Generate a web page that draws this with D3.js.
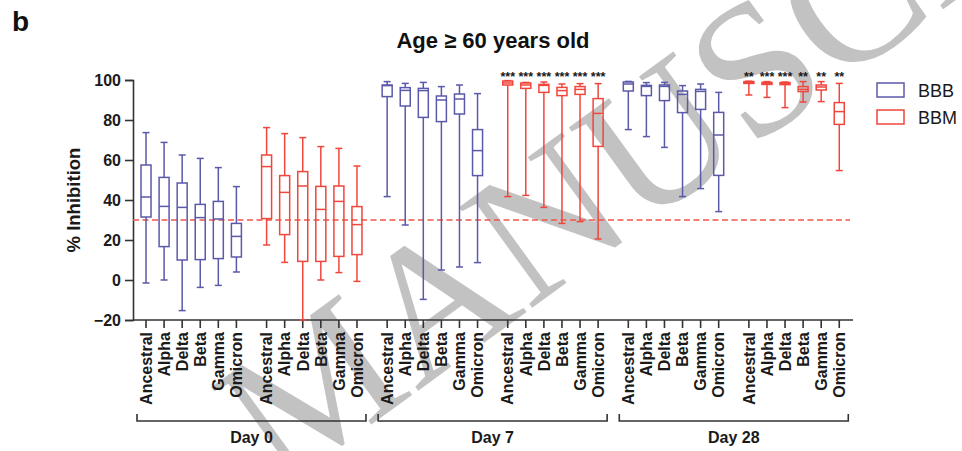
<!DOCTYPE html>
<html>
<head>
<meta charset="utf-8">
<script src="https://cdn.jsdelivr.net/npm/d3@7"></script>
<style>
  html, body { margin: 0; padding: 0; background: #fff; }
  svg { display: block; }
  text { font-family: "Liberation Sans", Arial, Helvetica, sans-serif; }
</style>
</head>
<body>
<svg id="chart" width="962" height="451"></svg>
<script>
// ---- data -------------------------------------------------------------
const variants = ["Ancestral", "Alpha", "Delta", "Beta", "Gamma", "Omicron"];
const days = ["Day 0", "Day 7", "Day 28"];
const groups = ["BBB", "BBM"];
const yTicks = [-20, 0, 20, 40, 60, 80, 100];
const threshold = 30;

// each entry: [min, q1, median, q3, max] in % inhibition, one per variant
const bbbDay0 = [
  [-1.5, 31.5, 41.5, 57.5, 73.7],
  [0.0, 16.7, 36.8, 51.3, 68.8],
  [-15.3, 10.0, 36.3, 48.5, 62.5],
  [-3.7, 10.2, 31.2, 37.8, 60.8],
  [-2.7, 10.7, 30.5, 39.3, 56.2],
  [4.0, 11.5, 21.8, 28.3, 46.7]
];
const bbmDay0 = [
  [17.5, 30.7, 56.7, 62.5, 76.2],
  [8.8, 22.7, 43.8, 52.2, 73.2],
  [-20.0, 9.3, 47.0, 54.2, 71.2],
  [0.0, 9.3, 35.3, 46.8, 66.7],
  [3.7, 11.8, 39.3, 47.0, 65.8],
  [-0.7, 12.7, 27.7, 36.7, 57.0]
];
const bbbDay7 = [
  [41.7, 91.7, 97.2, 97.5, 99.2],
  [27.5, 87.0, 94.8, 96.2, 98.3],
  [-9.7, 81.3, 94.7, 95.8, 98.8],
  [5.0, 79.2, 90.0, 92.0, 96.7],
  [6.5, 83.0, 90.5, 93.0, 97.5],
  [8.7, 52.2, 64.7, 75.2, 93.2]
];
const bbmDay7 = [
  [41.7, 97.5, 98.5, 99.5, 99.7],
  [42.3, 95.8, 97.5, 98.5, 98.8],
  [36.3, 93.8, 97.3, 97.8, 99.0],
  [28.3, 92.2, 94.7, 96.3, 98.0],
  [29.2, 92.8, 95.3, 96.7, 98.2],
  [20.5, 66.8, 83.3, 90.7, 98.2]
];
const bbbDay28 = [
  [75.2, 94.5, 98.0, 99.0, 99.3],
  [71.7, 92.2, 96.8, 97.3, 98.7],
  [66.3, 89.7, 96.8, 97.5, 98.8],
  [41.7, 83.7, 92.8, 94.5, 97.2],
  [45.7, 85.3, 94.3, 95.3, 98.0],
  [34.2, 52.3, 72.5, 83.8, 93.8]
];
const bbmDay28 = [
  [92.5, 98.3, 98.8, 99.2, 99.4],
  [91.3, 97.8, 98.3, 98.8, 99.2],
  [86.2, 97.7, 98.2, 98.7, 99.0],
  [89.0, 94.2, 95.3, 96.7, 99.2],
  [89.2, 95.0, 96.5, 97.5, 99.2],
  [54.7, 77.8, 84.2, 88.7, 98.3]
];
// significance marks above the BBM boxes
const bbmStarsDay0 = ["", "", "", "", "", ""];
const bbmStarsDay7 = ["***", "***", "***", "***", "***", "***"];
const bbmStarsDay28 = ["**", "***", "***", "**", "**", "**"];

const seriesByDay = [
  { day: days[0], BBB: bbbDay0, BBM: bbmDay0, stars: bbmStarsDay0 },
  { day: days[1], BBB: bbbDay7, BBM: bbmDay7, stars: bbmStarsDay7 },
  { day: days[2], BBB: bbbDay28, BBM: bbmDay28, stars: bbmStarsDay28 }
];

const colors = { BBB: "#5b59a9", BBM: "#f0463c" };

// ---- flatten into box records ------------------------------------------
const blockGap = 0.67;   // extra spacing (in box slots) between blocks
const boxes = [];
seriesByDay.forEach((s, d) => {
  groups.forEach((g, gi) => {
    const block = d * 2 + gi;
    s[g].forEach((v, vi) => {
      boxes.push({
        day: s.day, group: g, variant: variants[vi],
        pos: block * 6 + vi + block * blockGap,
        min: v[0], q1: v[1], median: v[2], q3: v[3], max: v[4],
        stars: g === "BBM" ? s.stars[vi] : ""
      });
    });
  });
});
const lastPos = 5 * 6 + 5 + 5 * blockGap;

// ---- layout ------------------------------------------------------------
const svg = d3.select("#chart");
const x = d3.scaleLinear().domain([-0.72, lastPos + 0.76]).range([133, 853]);
const y = d3.scaleLinear().domain([-20, 100]).range([320, 80]);
const boxW = 10, capW = 7;

// faint background watermark lettering
svg.append("text")
  .attr("transform", "translate(280,491) rotate(-36)")
  .style("font-family", "'Liberation Serif', 'Times New Roman', serif")
  .attr("font-size", 190)
  .attr("fill", "#c2c2c2")
  .text("MANUSCRIPT");

// panel letter and title
svg.append("text").attr("x", 12).attr("y", 31)
  .attr("font-size", 28).attr("font-weight", "bold").attr("fill", "#111").text("b");
svg.append("text").attr("x", 493).attr("y", 48).attr("text-anchor", "middle")
  .attr("font-size", 22).attr("font-weight", "bold").attr("fill", "#111")
  .text("Age \u2265 60 years old");

// y axis
const yAxis = svg.append("g").attr("transform", `translate(${x.range()[0]},0)`)
  .call(d3.axisLeft(y).tickValues(yTicks).tickSize(8).tickPadding(4).tickFormat(d3.format("d")));
yAxis.select(".domain").attr("stroke", "#333").attr("stroke-width", 1.6);
yAxis.selectAll(".tick line").attr("stroke", "#333").attr("stroke-width", 1.6);
yAxis.selectAll(".tick text").attr("font-size", 16).attr("font-weight", "bold")
  .attr("fill", "#1a1a1a").style("font-family", "'Liberation Sans', Arial, sans-serif");

svg.append("text")
  .attr("transform", `translate(80,${y(40)}) rotate(-90)`)
  .attr("text-anchor", "middle")
  .attr("font-size", 18.5).attr("font-weight", "bold").attr("fill", "#1a1a1a")
  .text("% Inhibition");

// x axis with one tick per box
const xAxis = svg.append("g").attr("transform", `translate(0,${y(-20)})`);
xAxis.append("line").attr("x1", x.range()[0]).attr("x2", x.range()[1])
  .attr("stroke", "#333").attr("stroke-width", 1.6);
const xt = xAxis.selectAll("g.xt").data(boxes).join("g").attr("class", "xt")
  .attr("transform", d => `translate(${x(d.pos)},0)`);
xt.append("line").attr("y1", 0).attr("y2", 8).attr("stroke", "#333").attr("stroke-width", 1.6);
xt.append("text")
  .attr("transform", "translate(0,12) rotate(-90)")
  .attr("text-anchor", "end").attr("dy", "0.36em")
  .attr("font-size", 16).attr("font-weight", "bold").attr("fill", "#1a1a1a")
  .text(d => d.variant);

// threshold line
svg.append("line")
  .attr("x1", x.range()[0]).attr("x2", 850)
  .attr("y1", y(threshold)).attr("y2", y(threshold))
  .attr("stroke", "#f2564a").attr("stroke-width", 1.5).attr("stroke-dasharray", "6,3.5");

// boxes
const bx = svg.append("g").selectAll("g.box").data(boxes).join("g").attr("class", "box")
  .attr("transform", d => `translate(${x(d.pos)},0)`)
  .attr("stroke", d => colors[d.group]).attr("stroke-width", 1.5).attr("fill", "none");
bx.append("line").attr("y1", d => y(d.max)).attr("y2", d => y(d.q3));
bx.append("line").attr("y1", d => y(d.q1)).attr("y2", d => y(d.min));
bx.append("line").attr("x1", -capW / 2).attr("x2", capW / 2)
  .attr("y1", d => y(d.max)).attr("y2", d => y(d.max));
bx.append("line").attr("x1", -capW / 2).attr("x2", capW / 2)
  .attr("y1", d => y(d.min)).attr("y2", d => y(d.min));
bx.append("rect").attr("x", -boxW / 2).attr("width", boxW)
  .attr("y", d => y(d.q3)).attr("height", d => Math.max(0.5, y(d.q1) - y(d.q3)));
bx.append("line").attr("x1", -boxW / 2).attr("x2", boxW / 2)
  .attr("y1", d => y(d.median)).attr("y2", d => y(d.median));

// significance stars
svg.append("g").selectAll("text").data(boxes.filter(d => d.stars)).join("text")
  .attr("x", d => x(d.pos)).attr("y", 81).attr("text-anchor", "middle")
  .attr("font-size", 12.5).attr("font-weight", "bold").attr("fill", "#1a1a1a")
  .text(d => d.stars);

// day brackets and labels
const br = svg.append("g").selectAll("g").data(days).join("g");
br.each(function (d, i) {
  const first = x(i * 12 + i * 2 * blockGap);
  const last = x(i * 12 + 11 + (i * 2 + 1) * blockGap);
  const c = (first + last) / 2, half = 114.5;
  const g = d3.select(this);
  g.append("path")
    .attr("d", `M${c - half},414V421H${c + half}V414`)
    .attr("fill", "none").attr("stroke", "#333").attr("stroke-width", 1.6);
  g.append("text").attr("x", c).attr("y", 443).attr("text-anchor", "middle")
    .attr("font-size", 16).attr("font-weight", "bold").attr("fill", "#1a1a1a").text(d);
});

// legend
const lg = svg.append("g").selectAll("g").data(groups).join("g")
  .attr("transform", (d, i) => `translate(877,${83 + i * 27})`);
lg.append("rect").attr("width", 27).attr("height", 14)
  .attr("fill", "#fff").attr("stroke", d => colors[d]).attr("stroke-width", 1.5);
lg.append("text").attr("x", 41).attr("y", 14)
  .attr("font-size", 18).attr("fill", "#1a1a1a").text(d => d);
</script>
</body>
</html>
